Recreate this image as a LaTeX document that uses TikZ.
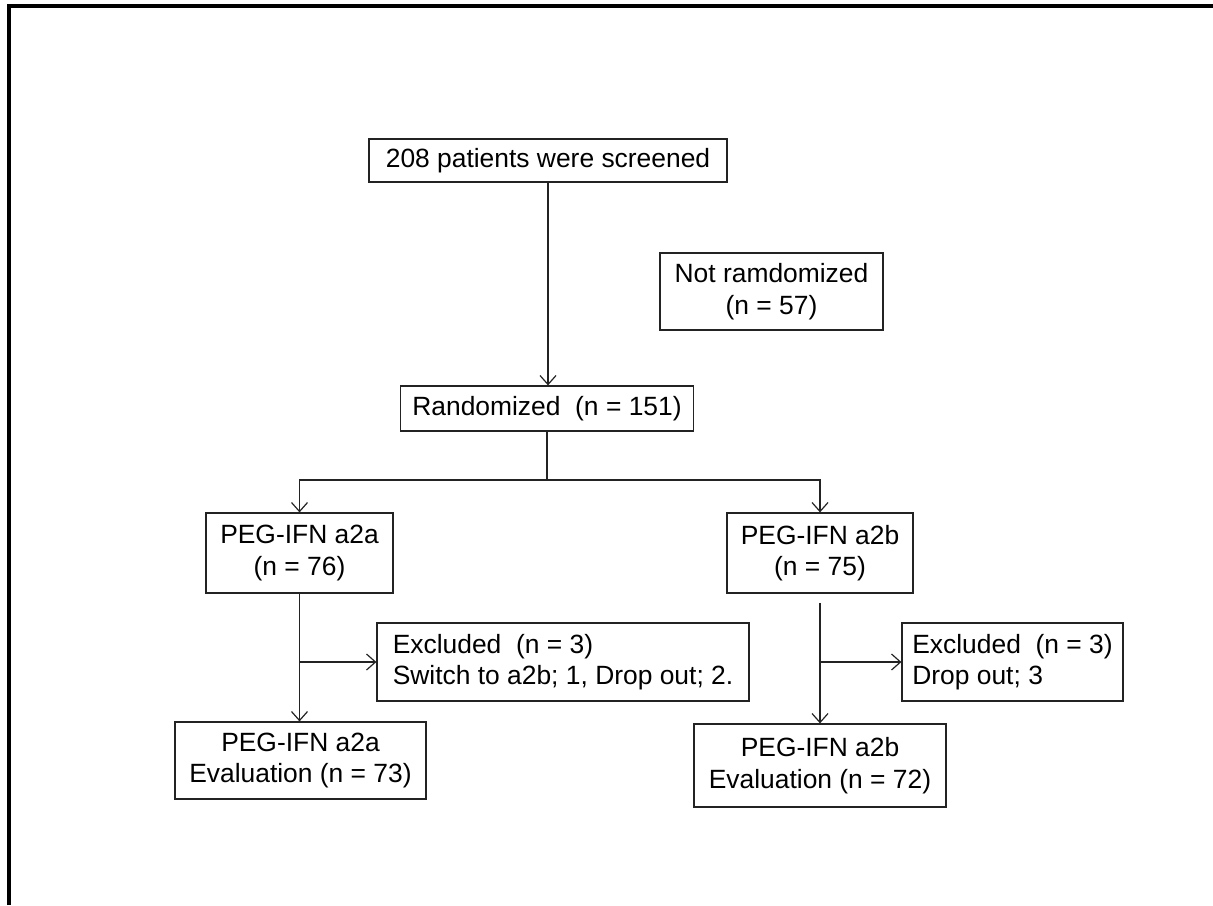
\documentclass[tikz,border=0pt]{standalone}
\usepackage{fontspec}
\setmainfont{Liberation Sans}
\usepackage{tikz}
\usepackage{xcolor}
\usetikzlibrary{arrows.meta,positioning,calc}
\definecolor{inkgray}{RGB}{35,35,35}

\begin{document}
\begin{tikzpicture}[x=0.5pt,y=-0.5pt,>={Straight Barb[length=4.5pt,width=8pt]},
  flowbox/.style={draw=inkgray, line width=0.6pt, inner sep=0pt, align=center,
    text=black, font=\fontsize{13.2}{15.8}\selectfont},
  exbox/.style={flowbox, align=left},
  link/.style={draw=inkgray, line width=0.6pt, ->}]
  \useasboundingbox (0,0) rectangle (1213,905);
  % outer frame
  \draw[line width=1.6pt] (9,905) -- (9,6) -- (1213,6);

  \node[flowbox, minimum width=179pt, minimum height=21.5pt] (screen) at (548,160.5)
    {208 patients were screened};
  \node[flowbox, minimum width=111.5pt, minimum height=38.5pt] (notrand) at (771.5,291.5)
    {Not ramdomized\\(n = 57)};
  \node[flowbox, minimum width=146.5pt, minimum height=22.5pt] (rand) at (547,408.5)
    {Randomized\ \ (n = 151)};
  \node[flowbox, minimum width=93.5pt, minimum height=40pt] (armA) at (299.5,553)
    {PEG-IFN a2a\\(n = 76)};
  \node[flowbox, minimum width=93pt, minimum height=40pt] (armB) at (820,553)
    {PEG-IFN a2b\\(n = 75)};
  \node[exbox, minimum width=186pt, minimum height=39pt] (exclA) at (563,662)
    {Excluded\ \ (n = 3)\\Switch to a2b; 1, Drop out; 2.};
  \node[exbox, minimum width=110.5pt, minimum height=39pt] (exclB) at (1012.5,662)
    {Excluded\ \ (n = 3)\\Drop out; 3};
  \node[flowbox, minimum width=125.5pt, minimum height=38.5pt] (evalA) at (300.5,760.5)
    {PEG-IFN a2a\\Evaluation (n = 73)};
  \node[flowbox, minimum width=126pt, minimum height=41.5pt] (evalB) at (820,765.5)
    {PEG-IFN a2b\\Evaluation (n = 72)};

  % connectors
  \draw[link] (screen.south) -- (screen.south |- rand.north);
  \coordinate (split) at (547,480);
  \draw[link, -] (rand.south) -- (split);
  \draw[link] (split) -| (armA.north);
  \draw[link] (split) -| (armB.north);
  \draw[link] (armA.south) -- (armA.south |- evalA.north);
  \draw[link] (armA.south |- exclA.west) -- (exclA.west);
  \draw[link] ([yshift=-4.5pt]armB.south) -- (armB.south |- evalB.north);
  \draw[link] (armB.south |- exclB.west) -- (exclB.west);
\end{tikzpicture}
\end{document}
